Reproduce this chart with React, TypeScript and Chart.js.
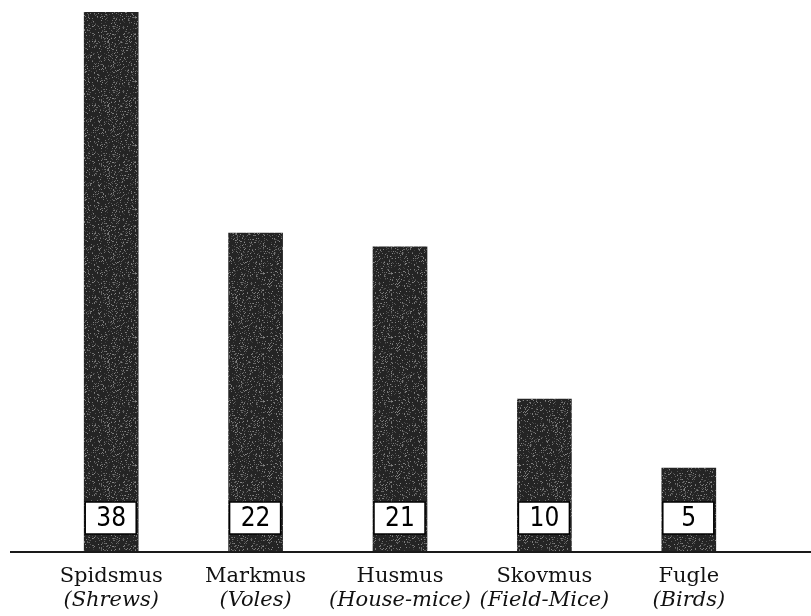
import React, { useEffect, useRef } from 'react';
import { Chart, registerables } from 'chart.js';

Chart.register(...registerables);

const categories = ['Spidsmus', 'Markmus', 'Husmus', 'Skovmus', 'Fugle'];
const englishNames = ['(Shrews)', '(Voles)', '(House-mice)', '(Field-Mice)', '(Birds)'];
const counts = [38, 22, 21, 10, 5];
const valueLabels = ['38', '22', '21', '10', '5'];
const axisMin = -1;
const axisMax = 38;

function makeGrainPattern(ctx: CanvasRenderingContext2D): CanvasPattern | string {
  const c = document.createElement('canvas');
  c.width = 64;
  c.height = 64;
  const g = c.getContext('2d');
  if (!g) return '#2e2e2e';
  g.fillStyle = '#242424';
  g.fillRect(0, 0, 64, 64);
  let s = 12345;
  const next = () => {
    s = (s * 1103515245 + 12345) & 0x7fffffff;
    return s / 0x7fffffff;
  };
  for (let i = 0; i < 800; i++) {
    const x = Math.floor(next() * 64);
    const y = Math.floor(next() * 64);
    const v = Math.floor(60 + next() * 80);
    g.fillStyle = `rgb(${v},${v},${v})`;
    g.fillRect(x, y, 1, 1);
  }
  const p = ctx.createPattern(c, 'repeat');
  return p || '#2e2e2e';
}

const overlayPlugin = {
  id: 'overlay',
  afterDatasetsDraw(chart: any) {
    const ctx: CanvasRenderingContext2D = chart.ctx;
    const area = chart.chartArea;
    const meta = chart.getDatasetMeta(0);
    ctx.save();
    // baseline
    ctx.strokeStyle = '#1a1a1a';
    ctx.lineWidth = 2;
    ctx.beginPath();
    ctx.moveTo(10, area.bottom + 1);
    ctx.lineTo(chart.width, area.bottom + 1);
    ctx.stroke();

    meta.data.forEach((bar: any, i: number) => {
      const { x, width, base } = bar.getProps(['x', 'width', 'base'], true);
      const left = x - width / 2 + 1;
      const w = width - 3;
      const top = base - 49;
      const h = 32;
      ctx.fillStyle = '#ffffff';
      ctx.fillRect(left, top, w, h);
      ctx.strokeStyle = '#000000';
      ctx.lineWidth = 1.5;
      ctx.strokeRect(left, top, w, h);
      ctx.fillStyle = '#000000';
      ctx.textAlign = 'center';
      ctx.textBaseline = 'middle';
      ctx.font = '26px "DejaVu Sans Condensed", "Liberation Sans Narrow", "DejaVu Sans", sans-serif';
      ctx.fillText(valueLabels[i], x, top + h / 2 + 1);

      ctx.textBaseline = 'alphabetic';
      ctx.fillStyle = '#111111';
      ctx.font = '21px "DejaVu Serif", "Liberation Serif", serif';
      ctx.fillText(categories[i], x, area.bottom + 31);
      ctx.font = 'italic 21px "DejaVu Serif", "Liberation Serif", serif';
      ctx.fillText(englishNames[i], x, area.bottom + 55);
    });
    ctx.restore();
  },
};

export default function App() {
  const canvasRef = useRef<HTMLCanvasElement | null>(null);

  useEffect(() => {
    const canvas = canvasRef.current;
    if (!canvas) return;
    const ctx = canvas.getContext('2d');
    if (!ctx) return;
    const pattern = makeGrainPattern(ctx);
    const chart = new Chart(canvas, {
      type: 'bar',
      data: {
        labels: categories,
        datasets: [
          {
            data: counts,
            base: axisMin,
            backgroundColor: pattern as any,
            borderWidth: 0,
            barThickness: 54,
          } as any,
        ],
      },
      options: {
        animation: false,
        responsive: false,
        maintainAspectRatio: false,
        layout: { padding: { top: 12, bottom: 65, left: 39, right: 50 } },
        plugins: {
          legend: { display: false },
          tooltip: { enabled: false },
          title: { display: false },
        },
        scales: {
          x: { display: false, grid: { display: false } },
          y: { display: false, min: axisMin, max: axisMax, grid: { display: false } },
        },
      },
      plugins: [overlayPlugin],
    });
    return () => chart.destroy();
  }, []);

  return (
    <div style={{ position: 'fixed', left: 0, top: 0, width: 811, height: 616, background: '#ffffff' }}>
      <canvas ref={canvasRef} width={811} height={616} style={{ display: 'block' }} />
    </div>
  );
}
